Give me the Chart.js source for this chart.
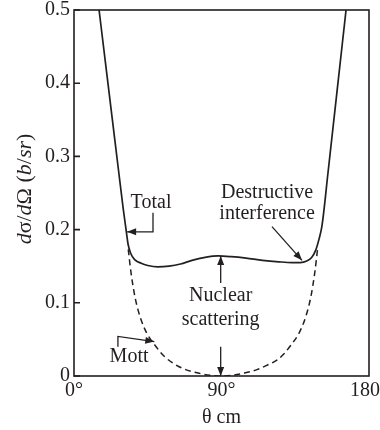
<!DOCTYPE html>
<html>
<head>
<meta charset="utf-8">
<script src="https://cdn.jsdelivr.net/npm/chart.js@4.4.0/dist/chart.umd.min.js"></script>
<style>
  html, body { margin: 0; padding: 0; background: #fff; }
</style>
</head>
<body>
<canvas id="crossSection" width="380" height="430"></canvas>
<script>
// scattering angle (deg, cm frame) and cross section (b/sr)
var angleTicks = [0, 90, 180];
var sigmaTicks = [0, 0.1, 0.2, 0.3, 0.4, 0.5];

var totalAngle = [15.3, 20, 25, 30, 32, 33, 34.5, 37, 41, 45, 51, 58, 65, 72, 80, 88, 96, 105, 115, 125, 133, 138, 142, 145, 147.5, 149.5, 151.3, 155, 160, 166];
var totalSigma = [0.5, 0.413, 0.321, 0.229, 0.196, 0.18, 0.168, 0.159, 0.154, 0.151, 0.149, 0.15, 0.153, 0.158, 0.162, 0.164, 0.163, 0.161, 0.158, 0.156, 0.155, 0.155, 0.157, 0.162, 0.172, 0.187, 0.205, 0.278, 0.379, 0.5];

var mottAngle = [33.1, 34.8, 37.2, 40.3, 44.3, 49.4, 55.5, 65.7, 75.7, 83, 90, 97, 104, 112, 118, 124, 128, 132.3, 137.4, 141.4, 144.5, 146.9, 148.6];
var mottSigma = [0.173, 0.141, 0.108, 0.081, 0.059, 0.042, 0.026, 0.011, 0.004, 0.001, 0, 0.001, 0.004, 0.009, 0.015, 0.022, 0.03, 0.042, 0.059, 0.081, 0.108, 0.141, 0.173];

var ink = '#231f20';
var serif = '"Liberation Serif", "Times New Roman", serif';

function pairs(xs, ys) {
  return xs.map(function (x, i) { return { x: x, y: ys[i] }; });
}

function arrowHead(ctx, x1, y1, x2, y2) {
  var ang = Math.atan2(y2 - y1, x2 - x1);
  var len = 9, half = 3.5;
  ctx.beginPath();
  ctx.moveTo(x2, y2);
  ctx.lineTo(x2 - len * Math.cos(ang) + half * Math.sin(ang), y2 - len * Math.sin(ang) - half * Math.cos(ang));
  ctx.lineTo(x2 - len * Math.cos(ang) - half * Math.sin(ang), y2 - len * Math.sin(ang) + half * Math.cos(ang));
  ctx.closePath();
  ctx.fill();
}

// polyline pointer with an arrow on its last point
function pointer(ctx, pts) {
  ctx.beginPath();
  ctx.moveTo(pts[0][0], pts[0][1]);
  for (var i = 1; i < pts.length; i++) ctx.lineTo(pts[i][0], pts[i][1]);
  ctx.stroke();
  var n = pts.length;
  arrowHead(ctx, pts[n - 2][0], pts[n - 2][1], pts[n - 1][0], pts[n - 1][1]);
}

var decorations = {
  id: 'decorations',
  afterDraw: function (chart) {
    var ctx = chart.ctx, a = chart.chartArea;
    var xs = chart.scales.x, ys = chart.scales.y;
    function P(t, v) { return [xs.getPixelForValue(t), ys.getPixelForValue(v)]; }

    ctx.save();
    ctx.strokeStyle = ink;
    ctx.fillStyle = ink;

    // frame and inward ticks on the left axis
    ctx.lineWidth = 1.6;
    ctx.strokeRect(a.left, a.top, a.right - a.left, a.bottom - a.top);
    ctx.beginPath();
    sigmaTicks.forEach(function (v) {
      var y = ys.getPixelForValue(v);
      ctx.moveTo(a.left, y);
      ctx.lineTo(a.left + 6, y);
    });
    ctx.stroke();

    // y-axis title with italic variables
    var parts = [['d', true], ['σ', false], ['/', false], ['d', true], ['Ω', false], [' (', false], ['b', true], ['/', false], ['sr', true], [')', false]];
    var size = 22;
    var w = 0;
    parts.forEach(function (p) {
      ctx.font = (p[1] ? 'italic ' : '') + size + 'px ' + serif;
      w += ctx.measureText(p[0]).width;
    });
    ctx.save();
    ctx.translate(25, (a.top + a.bottom) / 2 - 4);
    ctx.rotate(-Math.PI / 2);
    ctx.textBaseline = 'middle';
    ctx.textAlign = 'left';
    var cx = -w / 2;
    parts.forEach(function (p) {
      ctx.font = (p[1] ? 'italic ' : '') + size + 'px ' + serif;
      ctx.fillText(p[0], cx, 0);
      cx += ctx.measureText(p[0]).width;
    });
    ctx.restore();

    // labels
    ctx.font = '20px ' + serif;
    ctx.textAlign = 'center';
    ctx.textBaseline = 'middle';
    function label(text, t, v) { var p = P(t, v); ctx.fillText(text, p[0], p[1]); }
    label('Total', 47, 0.236);
    label('Destructive', 117.8, 0.251);
    label('interference', 117.8, 0.221);
    label('Nuclear', 89.5, 0.109);
    label('scattering', 89.5, 0.077);
    label('Mott', 33.6, 0.026);

    ctx.lineWidth = 1.3;
    pointer(ctx, [P(48.2, 0.223), P(48.2, 0.197), P(32.4, 0.197)]);
    pointer(ctx, [P(120.8, 0.204), P(139.1, 0.158)]);
    pointer(ctx, [P(89.5, 0.127), P(89.5, 0.164)]);
    pointer(ctx, [P(89.5, 0.04), P(89.5, 0)]);
    pointer(ctx, [P(26.8, 0.04), P(26.8, 0.054), P(49, 0.047)]);

    ctx.restore();
  }
};

new Chart(document.getElementById('crossSection').getContext('2d'), {
  type: 'line',
  data: {
    datasets: [{
      label: 'Total',
      data: pairs(totalAngle, totalSigma),
      borderColor: ink,
      borderWidth: 1.7,
      pointRadius: 0,
      fill: false,
      cubicInterpolationMode: 'monotone'
    }, {
      label: 'Mott',
      data: pairs(mottAngle, mottSigma),
      borderColor: ink,
      borderWidth: 1.5,
      borderDash: [6, 4],
      pointRadius: 0,
      fill: false,
      cubicInterpolationMode: 'monotone'
    }]
  },
  options: {
    responsive: false,
    animation: false,
    devicePixelRatio: 1,
    layout: { padding: { top: 10, right: 11, left: 0, bottom: 0 } },
    plugins: { legend: { display: false }, tooltip: { enabled: false } },
    scales: {
      x: {
        type: 'linear',
        min: 0,
        max: 180,
        afterBuildTicks: function (s) { s.ticks = angleTicks.map(function (v) { return { value: v }; }); },
        afterFit: function (s) { s.height = 54; s.paddingLeft = 0; s.paddingRight = 0; },
        grid: { display: false, drawTicks: false },
        border: { display: false },
        ticks: {
          padding: 3,
          maxRotation: 0,
          color: ink,
          font: { family: serif, size: 20 },
          callback: function (v) { return v + '°'; }
        },
        title: {
          display: true,
          text: 'θ cm',
          color: ink,
          font: { family: serif, size: 20 },
          padding: { top: 0, bottom: 0 }
        }
      },
      y: {
        min: 0,
        max: 0.5,
        afterBuildTicks: function (s) { s.ticks = sigmaTicks.map(function (v) { return { value: v }; }); },
        afterFit: function (s) { s.width = 74; s.paddingTop = 0; s.paddingBottom = 0; },
        grid: { display: false, drawTicks: false },
        border: { display: false },
        ticks: {
          padding: 4,
          color: ink,
          font: { family: serif, size: 20 },
          callback: function (v) { return v === 0 ? '0' : v.toFixed(1); }
        }
      }
    }
  },
  plugins: [decorations]
});
</script>
</body>
</html>
